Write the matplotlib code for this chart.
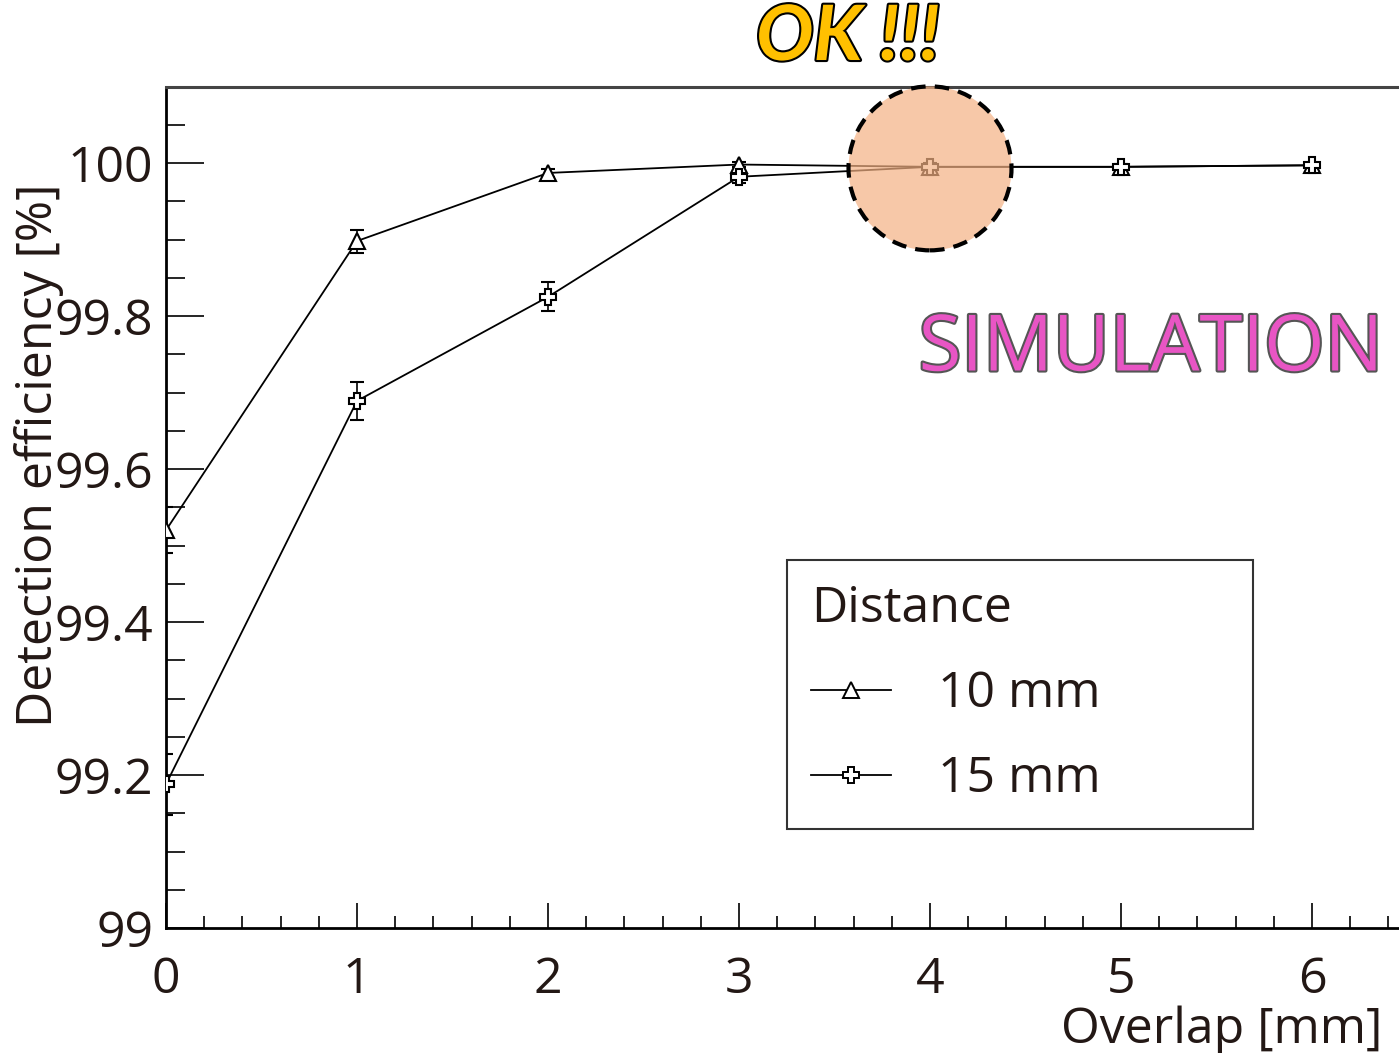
import numpy as np
import matplotlib.pyplot as plt
import matplotlib.patheffects as pe
from matplotlib.patches import Ellipse
from matplotlib.lines import Line2D
from matplotlib.ticker import MultipleLocator

overlap = [0, 1, 2, 3, 4, 5, 6]
eff_10mm = [99.52, 99.898, 99.987, 99.998, 99.995, 99.995, 99.997]
err_10mm = [0.03, 0.015, 0.005, 0.003, 0.003, 0.003, 0.002]
eff_15mm = [99.188, 99.689, 99.825, 99.982, 99.995, 99.995, 99.997]
err_15mm = [0.04, 0.025, 0.019, 0.008, 0.005, 0.004, 0.003]

txt = '#231815'
plt.rcParams['font.family'] = ['Open Sans', 'DejaVu Sans']

fig = plt.figure(figsize=(13.99, 10.53), dpi=100)
ax = fig.add_axes([166 / 1399, 125 / 1053, 1337 / 1399, 841 / 1053])

style = dict(color='black', lw=1.3, ms=12, mfc='white', mec='black', mew=1.5,
             capsize=5, elinewidth=1.2, capthick=1.2, zorder=3)
ax.errorbar(overlap, eff_10mm, yerr=err_10mm, marker='^', **style)
ax.errorbar(overlap, eff_15mm, yerr=err_15mm, marker='P', **style)

ax.set_xlim(0, 7)
ax.set_ylim(99, 99 + 841 / 765)

ax.set_xticks(overlap)
ax.xaxis.set_minor_locator(MultipleLocator(0.2))
ax.yaxis.set_minor_locator(MultipleLocator(0.05))
ax.set_yticks([99, 99.2, 99.4, 99.6, 99.8, 100])
ax.set_yticklabels(['99', '99.2', '99.4', '99.6', '99.8', '100'])

ax.tick_params(axis='both', which='both', direction='in', width=1.2,
               colors='black', labelcolor=txt, labelsize=36)
ax.tick_params(axis='y', which='major', length=27, pad=9)
ax.tick_params(axis='y', which='minor', length=14)
ax.tick_params(axis='x', which='major', length=18, pad=20)
ax.tick_params(axis='x', which='minor', length=9)

for s in ['left', 'bottom']:
    ax.spines[s].set_linewidth(2)
ax.spines['top'].set_linewidth(2.2)
ax.spines['top'].set_color('#444444')
ax.spines['right'].set_visible(False)

ax.set_ylabel('Detection efficiency [%]', fontsize=36, color=txt)
ax.yaxis.set_label_coords(-0.076, 0.562)
ax.set_xlabel('Overlap [mm]', fontsize=36, color=txt, ha='right')
ax.xaxis.set_label_coords(0.91, -0.092)

# highlight circle around the 4 mm point
circ = Ellipse((4, 99.993), 163 / 191, 164 / 765, facecolor='#f4b183',
               alpha=0.7, edgecolor='none', zorder=4, clip_on=False)
ax.add_patch(circ)
ring = Ellipse((4, 99.993), 163 / 191, 164 / 765, facecolor='none',
               edgecolor='black', lw=3, ls=(0, (3.5, 2.2)), zorder=5, clip_on=False)
ax.add_patch(ring)

fig.text(848 / 1399, 1 - 38 / 1053, 'OK !!!', fontsize=55, fontweight='bold',
         style='italic', family=['Lato', 'DejaVu Sans'],
         color='#ffc000', ha='center', va='center',
         path_effects=[pe.withStroke(linewidth=3, foreground='black')])

fig.text(1151 / 1399, 1 - 350 / 1053, 'SIMULATION', fontsize=56,
         color='#e855c4', ha='center', va='center',
         path_effects=[pe.withStroke(linewidth=3, foreground='#555555')])

handles = [Line2D([], [], color='black', lw=1.3, marker='^', ms=11,
                  mfc='white', mec='black', mew=1.4),
           Line2D([], [], color='black', lw=1.3, marker='P', ms=11,
                  mfc='white', mec='black', mew=1.4)]
leg = ax.legend(handles, ['10 mm', '15 mm'], title='Distance', loc='upper left',
                bbox_to_anchor=((787 - 166) / 1337, (928 - 823) / 841,
                                466 / 1337, 263 / 841),
                mode='expand', borderaxespad=0, fontsize=36, title_fontsize=36,
                frameon=True, fancybox=False, edgecolor='black',
                handlelength=1.6, handletextpad=0.95, labelspacing=0.72,
                borderpad=0.48, alignment='left')
leg.get_frame().set_linewidth(1.5)
leg.get_title().set_color(txt)
for t in leg.get_texts():
    t.set_color(txt)

plt.savefig('out.png', dpi=100)
plt.close('all')
